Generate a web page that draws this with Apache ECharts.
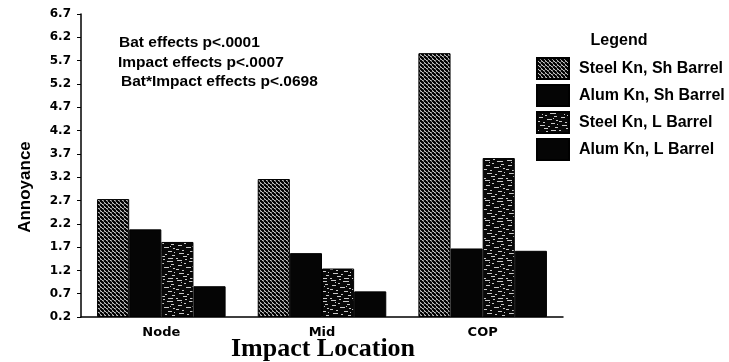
<!DOCTYPE html>
<html>
<head>
<meta charset="utf-8">
<script src="https://cdn.jsdelivr.net/npm/echarts@6/dist/echarts.min.js"></script>
<style>
  html, body { margin: 0; padding: 0; background: #fff; }
  #chart { width: 729px; height: 362px; }
</style>
</head>
<body>
<div id="chart"></div>
<script>
const categories = ["Node", "Mid", "COP"];
const seriesNames = [
  "Steel Kn, Sh Barrel",
  "Alum Kn, Sh Barrel",
  "Steel Kn, L Barrel",
  "Alum Kn, L Barrel",
];
const steelShort = [2.73, 3.16, 5.86];
const alumShort = [2.08, 1.57, 1.67];
const steelLong = [1.81, 1.24, 3.61];
const alumLong = [0.86, 0.75, 1.62];
const axisBase = 0.2; // bottom of the y axis
const axisTop = 6.7;
const tickStep = 0.5;
const notes = [
  "Bat effects p<.0001",
  "Impact effects p<.0007",
  "Bat*Impact effects p<.0698",
];

// diagonal hatch texture
function hatchPattern() {
  const c = document.createElement("canvas");
  c.width = 4;
  c.height = 4;
  const ctx = c.getContext("2d");
  ctx.fillStyle = "#fff";
  ctx.fillRect(0, 0, 4, 4);
  ctx.strokeStyle = "#000";
  ctx.lineWidth = 2.3;
  for (let i = -4; i <= 4; i += 4) {
    ctx.beginPath();
    ctx.moveTo(i, 0);
    ctx.lineTo(i + 4, 4);
    ctx.stroke();
  }
  return c;
}

// dark speckled texture (fixed marks)
function specklePattern() {
  const c = document.createElement("canvas");
  c.width = 22;
  c.height = 20;
  const ctx = c.getContext("2d");
  ctx.fillStyle = "#080808";
  ctx.fillRect(0, 0, 22, 20);
  ctx.fillStyle = "#c8c8c8";
  const marks = [
    [1, 0, 5, 1], [13, 1, 6, 1], [8, 3, 2, 1], [17, 4, 3, 1],
    [2, 5, 4, 1], [10, 7, 5, 1], [19, 8, 2, 1], [0, 9, 3, 1],
    [6, 10, 2, 1], [14, 11, 4, 1], [3, 13, 5, 1], [11, 14, 2, 1],
    [18, 15, 3, 1], [7, 16, 4, 1], [0, 18, 2, 1], [14, 18, 5, 1],
    [9, 19, 2, 1], [20, 12, 1, 1], [5, 2, 1, 1], [16, 6, 1, 1],
  ];
  marks.forEach(([x, y, w, h]) => ctx.fillRect(x, y, w, h));
  return c;
}

const fills = [
  { image: hatchPattern(), repeat: "repeat" },
  "#050505",
  { image: specklePattern(), repeat: "repeat" },
  "#050505",
];
const values = [steelShort, alumShort, steelLong, alumLong];

const chart = echarts.init(document.getElementById("chart"), null, {
  renderer: "canvas",
});

const labelFont = "DejaVu Sans";

chart.setOption({
  backgroundColor: "#fff",
  animation: false,
  grid: { left: 81, right: 166, top: 14, bottom: 45, outerBoundsMode: "none", containLabel: false },
  legend: {
    orient: "vertical",
    left: 536,
    top: 57,
    padding: 0,
    itemWidth: 32,
    itemHeight: 21,
    itemGap: 4,
    icon: "rect",
    data: seriesNames,
    textStyle: {
      fontFamily: "Liberation Sans",
      fontWeight: "bold",
      fontSize: 16,
      color: "#000",
      padding: [0, 0, 0, 5],
    },
  },
  xAxis: {
    type: "category",
    data: categories,
    axisLine: { lineStyle: { color: "#000", width: 1.5 } },
    axisTick: { show: false },
    axisLabel: {
      color: "#000",
      fontFamily: labelFont,
      fontWeight: "bold",
      fontSize: 13,
      margin: 9,
    },
  },
  yAxis: {
    type: "value",
    min: 0,
    max: axisTop - axisBase,
    interval: tickStep,
    axisLine: { show: true, lineStyle: { color: "#000", width: 1.5 } },
    axisTick: { show: true, length: 4, lineStyle: { color: "#000" } },
    splitLine: { show: false },
    axisLabel: {
      color: "#000",
      fontFamily: labelFont,
      fontWeight: "bold",
      fontSize: 12,
      margin: 10,
      formatter: (v) => (v + axisBase).toFixed(1),
    },
  },
  graphic: [
    {
      type: "text",
      x: 25,
      y: 187,
      rotation: Math.PI / 2,
      style: {
        text: "Annoyance",
        font: "bold 17px 'Liberation Sans'",
        fill: "#000",
        textAlign: "center",
        textVerticalAlign: "middle",
      },
    },
    {
      type: "text",
      x: 323,
      y: 349,
      style: {
        text: "Impact Location",
        font: "bold 26px 'Liberation Serif'",
        fill: "#000",
        textAlign: "center",
        textVerticalAlign: "middle",
      },
    },
    {
      type: "text",
      x: 619,
      y: 41,
      style: {
        text: "Legend",
        font: "bold 16px 'Liberation Sans'",
        fill: "#000",
        textAlign: "center",
        textVerticalAlign: "middle",
      },
    },
    ...notes.map((t, i) => ({
      type: "text",
      x: [119, 118, 121][i],
      y: 43 + i * 19.5,
      style: {
        text: t,
        font: "bold 15.5px 'Liberation Sans'",
        fill: "#000",
        textVerticalAlign: "middle",
      },
    })),
  ],
  series: seriesNames.map((name, i) => ({
    name,
    type: "bar",
    barWidth: "20%",
    barGap: "0%",
    data: values[i].map((v) => +(v - axisBase).toFixed(3)),
    itemStyle: { color: fills[i], borderColor: "#000", borderWidth: 1 },
  })),
});
</script>
</body>
</html>
